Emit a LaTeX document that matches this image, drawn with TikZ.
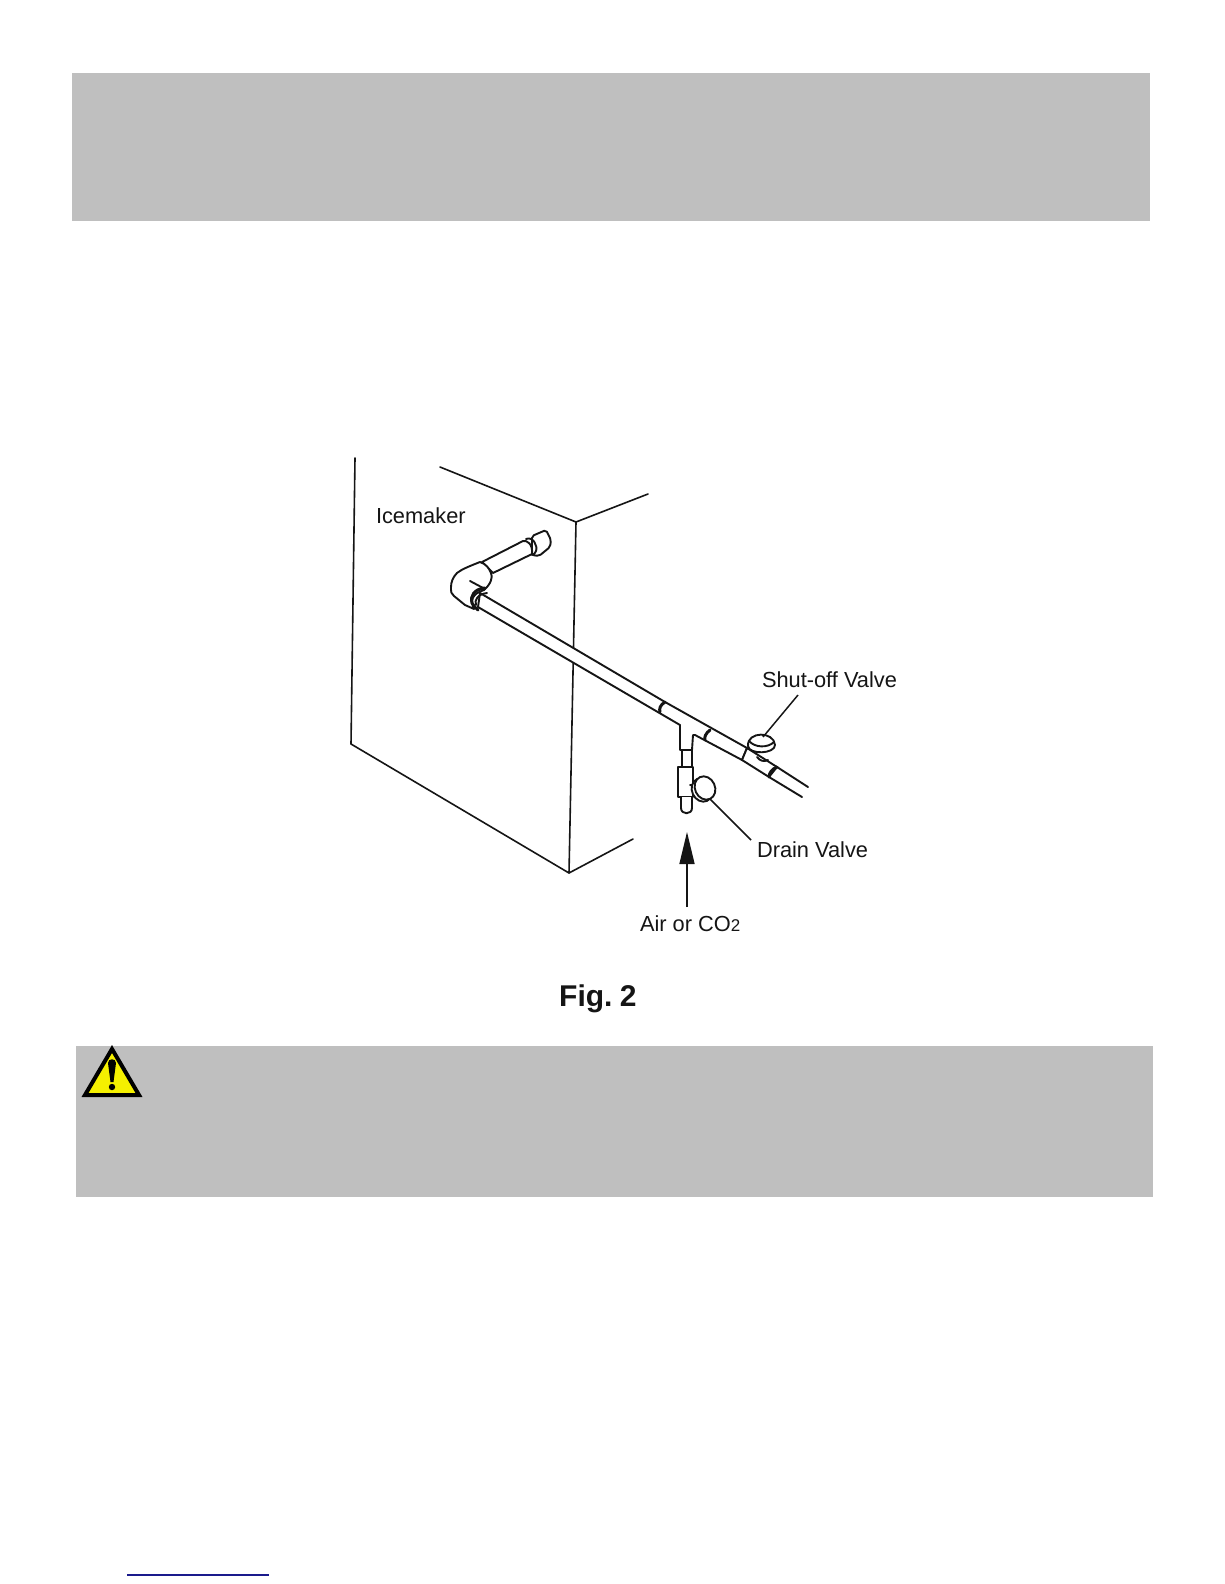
\documentclass[tikz,border=0pt]{standalone}
\usepackage{fontspec}
\setmainfont{Liberation Sans}
\usetikzlibrary{arrows.meta}
\definecolor{band}{HTML}{BFBFBF}
\definecolor{ink}{HTML}{151515}
\definecolor{linkblue}{HTML}{1A1A8C}
\definecolor{warnyellow}{HTML}{F5F000}
\tikzset{
  banner/.style={fill=band,draw=none},
  wall/.style={draw=ink,line width=1.6pt,line cap=round,line join=round},
  pipe/.style={draw=ink,line width=1.9pt,line cap=round,line join=round},
  joint/.style={draw=ink,line width=3pt,line cap=round},
  label/.style={font=\fontsize{21.8}{26}\selectfont,text=ink,anchor=base west,inner sep=0pt,outer sep=2pt},
  leader/.style={draw=ink,line width=1.5pt},
}
\begin{document}
\begin{tikzpicture}[x=1pt,y=-1pt]
\useasboundingbox (0,0) rectangle (1224,1584);
\fill[white] (0,0) rectangle (1224,1584);
\path[banner] (72,73) rectangle (1150,221);
\path[banner] (76,1046) rectangle (1153,1197);
% cabinet
\path[wall] (355,458) -- (351,744) -- (569,873) -- (633,839);
\path[wall] (440,467) -- (576,522) -- (648,494);
\path[wall] (576,522) -- (569,873);
% main pipe
\path[pipe,fill=white] (480,593) -- (665,702) -- (747,748) -- (742,760) -- (695,735) -- (693,735) -- (692,750) -- (682,750) -- (680,750) -- (680,725) -- (478,607) -- cycle;
\path[joint] (665,702) .. controls (660,705) and (659,709) .. (660,712);
\path[joint] (710,730) .. controls (706,733) and (704,737) .. (705,740);
% vertical branch
\path[pipe,fill=white] (682,750) -- (682,767) -- (692,767) -- (692,750) -- cycle;
\path[pipe,fill=white] (678,767) -- (693,767) -- (693,797) -- (678,797) -- cycle;
\path[pipe,fill=white] (681,797) -- (681,808) .. controls (681,815) and (692,815) .. (692,808) -- (692,797);
% valve body and outgoing pipe
\path[pipe,fill=white] (747,748) -- (777,767) -- (769,777) -- (742,760) -- cycle;
\path[joint] (777,767) .. controls (772,769) and (769,773) .. (769,777);
\path[pipe] (777,767) -- (808,787);
\path[pipe] (769,777) -- (802,797);
% shut-off knob
\path[pipe] (757,757) .. controls (760,761) and (764,762) .. (768,760);
\path[pipe,fill=white] (748,746) .. controls (747,731) and (774,731) .. (775,745) .. controls (775,754) and (749,755) .. (748,746) -- cycle;
\path[pipe] (749,741) .. controls (755,748) and (768,748) .. (774,742);
% drain knob
\path[pipe] (690,785) -- (696,785);
\path[pipe,fill=white,rotate around={25:(702,790)}] (702,790) ellipse [x radius=10,y radius=12];
\path[pipe,fill=white,rotate around={25:(705,788)}] (705,788) ellipse [x radius=10,y radius=12];
% nut
\path[pipe,fill=white,rounded corners=2pt] (532,536) -- (546,530) -- (551,540) -- (550,547) -- (539,556) -- (532,555) -- cycle;
% pipe to nut and collar
\path[pipe,fill=white] (482,562) -- (523,541) .. controls (527,540) and (533,544) .. (532,554) -- (493,573) -- cycle;
\path[pipe] (526,539) .. controls (533,536) and (538,546) .. (536,551) .. controls (535,553) and (534,555) .. (532,555);
% elbow
\path[pipe,fill=white] (480,562) .. controls (470,566) and (462,569) .. (457,573) .. controls (453,577) and (451,582) .. (451,587) .. controls (451,592) and (451,594) .. (454,596) -- (465,605) -- (474,609) .. controls (470,600) and (472,594) .. (484,590) .. controls (491,584) and (493,577) .. (491,573) .. controls (489,568) and (486,564) .. (480,562) -- cycle;
\path[pipe] (470,581) -- (485,589);
\path[joint] (485,588) .. controls (474,589) and (470,596) .. (472,603) .. controls (473,606) and (476,608) .. (478,610);
\path[pipe] (487,593) .. controls (478,594) and (474,600) .. (476,605);
% labels
\node[label] (ice) at (374,523) {Icemaker};
\node[label] (shut) at (760,687) {Shut-off Valve};
\node[label] (drain) at (755,857) {Drain Valve};
\node[label] (air) at (638,931) {Air or CO{\fontsize{17}{18}\selectfont 2}};
\node[font=\bfseries\fontsize{30}{34}\selectfont,text=ink,anchor=base west,inner sep=0pt] (fig) at (559,1006) {Fig.\kern-1pt\ 2};
% leaders
\coordinate (shutend) at (763,737);
\coordinate (shuttop) at (798,695);
\coordinate (drainend) at (710,799);
\coordinate (draintop) at (751,840);
\coordinate (airtip) at (687,832);
\coordinate (airtail) at (687,907);
\path[leader] (shuttop) -- (shutend);
\path[leader] (draintop) -- (drainend);
\draw[leader,-{Triangle[length=32pt,width=15pt]}] (airtail) -- (airtip);
% warning sign
\path[fill=warnyellow,draw=black,line width=4pt,line join=miter] (112,1049) -- (139,1095) -- (85,1095) -- cycle;
\fill[black] (108,1063) .. controls (108,1058) and (116,1058) .. (116,1063) -- (113.5,1082) -- (110.5,1082) -- cycle;
\fill[black] (112,1087) circle (3.2);
% footer rule
\draw[linkblue,line width=1.5pt] (127,1575) -- (269,1575);
\end{tikzpicture}
\end{document}
